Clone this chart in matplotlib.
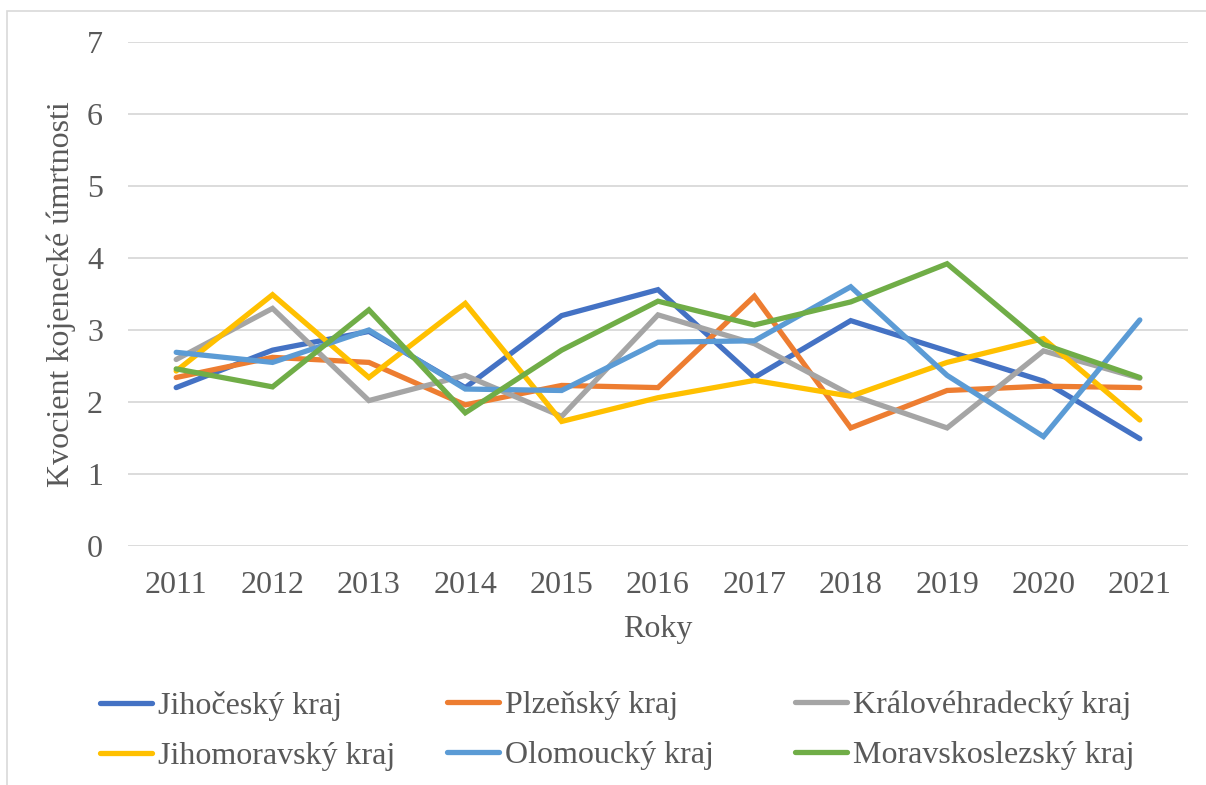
import matplotlib.pyplot as plt
from matplotlib.patches import Rectangle

# Kvocient kojenecké úmrtnosti podle krajů, 2011-2021
years = ['2011', '2012', '2013', '2014', '2015', '2016', '2017', '2018', '2019', '2020', '2021']
jihocesky = [2.20, 2.72, 2.98, 2.20, 3.20, 3.56, 2.34, 3.13, 2.71, 2.29, 1.49]
plzensky = [2.34, 2.62, 2.55, 1.96, 2.23, 2.20, 3.47, 1.64, 2.16, 2.22, 2.20]
kralovehradecky = [2.59, 3.30, 2.02, 2.37, 1.80, 3.21, 2.81, 2.10, 1.64, 2.71, 2.33]
jihomoravsky = [2.43, 3.49, 2.34, 3.37, 1.73, 2.06, 2.30, 2.08, 2.55, 2.88, 1.75]
olomoucky = [2.69, 2.55, 3.00, 2.18, 2.16, 2.83, 2.85, 3.60, 2.37, 1.52, 3.14]
moravskoslezsky = [2.46, 2.21, 3.28, 1.85, 2.72, 3.40, 3.07, 3.39, 3.92, 2.80, 2.34]

series = [
    ('Jihočeský kraj', jihocesky, '#4472C4'),
    ('Plzeňský kraj', plzensky, '#ED7D31'),
    ('Královéhradecký kraj', kralovehradecky, '#A5A5A5'),
    ('Jihomoravský kraj', jihomoravsky, '#FFC000'),
    ('Olomoucký kraj', olomoucky, '#5B9BD5'),
    ('Moravskoslezský kraj', moravskoslezsky, '#70AD47'),
]

plt.rcParams['font.family'] = ['Liberation Serif', 'DejaVu Serif']
text_color = '#595959'

fig = plt.figure(figsize=(12.06, 7.85), dpi=100)
# light frame around the chart (cut at the right and bottom edge)
fig.patches.append(Rectangle((7 / 1206, -0.1), 1.2, 1.1 - 11 / 785,
                             transform=fig.transFigure, fill=False,
                             edgecolor='#d9d9d9', linewidth=1.2))
ax = fig.add_axes([128 / 1206, 1 - 546 / 785, 1060 / 1206, 504 / 785])

x = range(len(years))
lines = []
for name, vals, color in series:
    ln, = ax.plot(x, vals, color=color, linewidth=3.8, solid_capstyle='round',
                  solid_joinstyle='miter', label=name)
    lines.append(ln)

ax.set_xlim(-0.5, len(years) - 0.5)
ax.set_ylim(0, 7)
ax.set_yticks(range(0, 8))
ax.set_xticks(list(x))
ax.set_xticklabels(years)
ax.grid(axis='y', color='#d9d9d9', linewidth=1.3)
ax.set_axisbelow(True)
for s in ax.spines.values():
    s.set_visible(False)
ax.tick_params(length=0, labelsize=23, labelcolor=text_color)
ax.tick_params(axis='x', pad=18)
ax.tick_params(axis='y', pad=18)

ax.set_xlabel('Roky', fontsize=23, color=text_color, labelpad=11)
ax.set_ylabel('Kvocient kojenecké úmrtnosti', fontsize=23, color=text_color, labelpad=8)

# legend: three columns, rows filled left to right
col_x = [100, 447, 795]
for i, cx in enumerate(col_x):
    pair = [lines[i], lines[i + 3]]
    leg = fig.legend(pair, [l.get_label() for l in pair], loc='upper left',
                     bbox_to_anchor=(cx / 1206, 1 - 691 / 785), ncol=1,
                     frameon=False, fontsize=23, labelcolor=text_color,
                     handlelength=1.63, handletextpad=0.2, borderpad=0,
                     borderaxespad=0, labelspacing=0.64)

fig.savefig('out.png', dpi=100)
